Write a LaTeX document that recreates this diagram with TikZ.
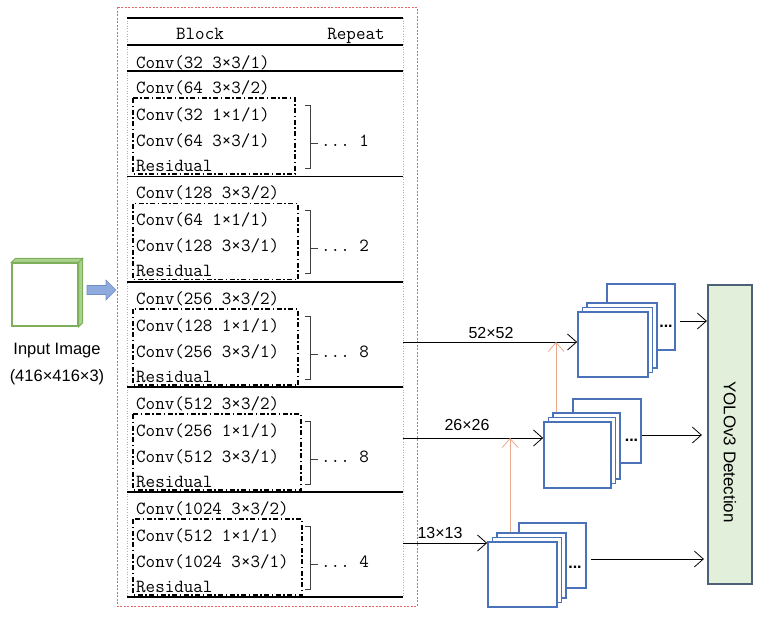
\documentclass[tikz,border=0pt]{standalone}
\usepackage{fontspec}
\setmainfont{Liberation Sans}
\usetikzlibrary{arrows.meta,calc}
\definecolor{ingreen}{HTML}{7FAF5A}
\definecolor{inside}{HTML}{A9D18E}
\definecolor{fmblue}{HTML}{4A72B8}
\definecolor{orangec}{HTML}{E9A98C}
\definecolor{yfill}{HTML}{E2EFDA}
\definecolor{yborder}{HTML}{4E5F78}
\definecolor{redd}{HTML}{E06666}
\definecolor{greyv}{HTML}{B0B0B0}
\definecolor{arrfill}{HTML}{8FAADC}
\definecolor{arrdraw}{HTML}{6F8FC9}
\tikzset{
  tt/.style={font=\ttfamily\fontsize{18.5}{20}\selectfont, inner sep=0pt, anchor=base west},
  ttc/.style={font=\ttfamily\fontsize{18.5}{20}\selectfont, inner sep=0pt, anchor=base},
  lbl/.style={font=\fontsize{16}{18}\selectfont, inner sep=0pt},
  fm/.style={draw=fmblue, line width=1.8pt, fill=white, inner sep=0pt},
  arr/.style={-{Straight Barb[length=9pt,width=16pt]}, line width=0.8pt},
  oarr/.style={arr, draw=orangec},
  ddbox/.style={line width=1.7pt, dash pattern=on 5pt off 2.5pt on 1.5pt off 2.5pt},
  hline/.style={line width=1.1pt},
  brk/.style={line width=0.9pt, draw=black!75},
}
% #1 index, #2 top, #3 title, #4 line1, #5 line2, #6 repeat, #7 box right
\newcommand\yblk[7]{%
  \node[tt] (t#1) at (136,#2+22) {#3};
  \draw[ddbox] (133,#2+27) rectangle (#7,#2+103);
  \node[tt] (a#1) at (136,#2+49) {#4};
  \node[tt] (b#1) at (136,#2+75) {#5};
  \node[tt] (r#1) at (136,#2+100) {Residual};
  \draw[brk] (305,#2+34) -- (310,#2+34) -- (310,#2+97) -- (305,#2+97);
  \draw[brk] (310,#2+72) -- (318,#2+72);
  \node[tt] (n#1) at (321,#2+75) {...\ #6};
}
\begin{document}
\begin{tikzpicture}[x=1pt,y=-1pt]
\useasboundingbox (0,0) rectangle (767,619);

% outer red dashed frame
\draw[redd, line width=0.9pt, dash pattern=on 2pt off 1.5pt] (117,7) rectangle (417,606);

% table frame
\draw[greyv, line width=0.6pt, dotted] (127,18) -- (127,597);
\draw[greyv, line width=0.6pt, dotted] (403,18) -- (403,597);
\foreach \yy in {18,45,71,176.5,282,387,492,597}
  \draw[hline] (127,\yy) -- (403,\yy);

\node[ttc] (hblock) at (200,39) {Block};
\node[ttc] (hrep) at (356,39) {Repeat};
\node[tt] (c0) at (136,68) {Conv(32 3×3/1)};

\yblk{1}{71}{Conv(64 3×3/2)}{Conv(32 1×1/1)}{Conv(64 3×3/1)}{1}{295}
\yblk{2}{176.5}{Conv(128 3×3/2)}{Conv(64 1×1/1)}{Conv(128 3×3/1)}{2}{298}
\yblk{3}{282}{Conv(256 3×3/2)}{Conv(128 1×1/1)}{Conv(256 3×3/1)}{8}{298}
\yblk{4}{387}{Conv(512 3×3/2)}{Conv(256 1×1/1)}{Conv(512 3×3/1)}{8}{301}
\yblk{5}{492}{Conv(1024 3×3/2)}{Conv(512 1×1/1)}{Conv(1024 3×3/1)}{4}{302}

% input image
\node[draw=ingreen, line width=1.3pt, fill=white, minimum width=66pt, minimum height=63pt, inner sep=0pt] (inimg) at (45,294.5) {};
\draw[draw=ingreen, fill=inside, line width=1pt] (inimg.north west) -- ++(4,-4) -- ($(inimg.north east)+(4,-4)$) -- (inimg.north east) -- cycle;
\draw[draw=ingreen, fill=inside, line width=1pt] (inimg.north east) -- ++(4,-4) -- ($(inimg.south east)+(4,-4)$) -- (inimg.south east) -- cycle;
\node[lbl, font=\fontsize{16.5}{18}\selectfont] (intxt) at (57,351) {Input Image};
\node[lbl, font=\fontsize{16.5}{18}\selectfont] (insz) at (57,377) {(416×416×3)};

% blue block arrow
\draw[fill=arrfill, draw=arrdraw, line width=0.6pt] (87,285.5) -- (106,285.5) -- (106,280) -- (116,290) -- (106,300) -- (106,294.5) -- (87,294.5) -- cycle;

% feature map stacks
\node[fm, minimum width=68pt, minimum height=66pt] (s1d) at (641,317) {};
\node[fm, minimum width=70pt, minimum height=65pt] (s1c) at (622,335.5) {};
\node[fm, minimum width=70pt, minimum height=65pt] (s1b) at (617.5,340) {};
\node[fm, minimum width=70pt, minimum height=65pt] (s1a) at (613,344.5) {};
\node[lbl, font=\bfseries\fontsize{16}{16}\selectfont] (s1dots) at (666,326) {...};

\node[fm, minimum width=68pt, minimum height=64pt] (s2d) at (607,431) {};
\node[fm, minimum width=67pt, minimum height=66pt] (s2c) at (586.5,446) {};
\node[fm, minimum width=67pt, minimum height=66pt] (s2b) at (582,450.5) {};
\node[fm, minimum width=67pt, minimum height=66pt] (s2a) at (577.5,455) {};
\node[lbl, font=\bfseries\fontsize{16}{16}\selectfont] (s2dots) at (631.5,440) {...};

\node[fm, minimum width=67pt, minimum height=65pt] (s3d) at (552.5,555.5) {};
\node[fm, minimum width=69pt, minimum height=65pt] (s3c) at (531.5,565.5) {};
\node[fm, minimum width=69pt, minimum height=65pt] (s3b) at (527,570) {};
\node[fm, minimum width=69pt, minimum height=65pt] (s3a) at (522.5,574.5) {};
\node[lbl, font=\bfseries\fontsize{16}{16}\selectfont] (s3dots) at (575,567) {...};

% YOLO detection box
\node[draw=yborder, fill=yfill, line width=2.2pt, minimum width=44pt, minimum height=299pt, inner sep=0pt] (yolo) at (730,434.5) {};
\node[lbl, font=\fontsize{17}{18}\selectfont, rotate=-90] (ytxt) at (730,452) {YOLOv3 Detection};

% exits from table
\coordinate (o3) at (403,342);
\coordinate (o4) at (403,438);
\coordinate (o5) at (403,543);

\draw[arr] (o3) -- (o3 -| s1a.west);
\node[lbl] (l52) at (491,333) {52×52};
\draw[arr] (o4) -- (o4 -| s2a.west);
\node[lbl] (l26) at (467,425) {26×26};
\draw[arr] (o5) -- (o5 -| s3a.west);
\node[lbl] (l13) at (440,533) {13×13};

% upsampling arrows
\coordinate (u1) at ($(s2c.north west)+(4,0)$);
\draw[oarr] (u1) -- (u1 |- o3);
\coordinate (u2) at ($(s3c.north west)+(14,0)$);
\draw[oarr] (u2) -- (u2 |- o4);

% to detection
\coordinate (d1) at ($(s1d.east)+(4,4)$);
\draw[arr] (d1) -- (d1 -| yolo.west);
\coordinate (d2) at ($(s2d.east)+(0,4)$);
\draw[arr] (d2) -- ($(d2 -| yolo.west)+(-5,0)$);
\coordinate (d3) at ($(s3d.east)+(4,3.5)$);
\draw[arr] (d3) -- ($(d3 -| yolo.west)+(-3,0)$);
\end{tikzpicture}
\end{document}
